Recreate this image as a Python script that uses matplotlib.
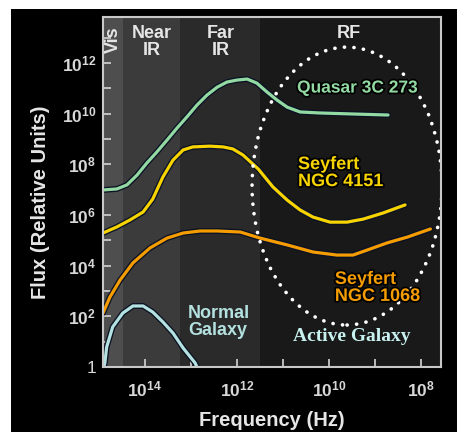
import numpy as np
import matplotlib
matplotlib.use("Agg")
import matplotlib.pyplot as plt
import matplotlib.patheffects as pe
from matplotlib.patches import Ellipse, Rectangle
from matplotlib.ticker import FixedLocator, FuncFormatter

plt.rcParams["font.family"] = ["Liberation Sans", "DejaVu Sans"]
plt.rcParams["mathtext.fontset"] = "custom"
plt.rcParams["mathtext.rm"] = "Liberation Sans:bold"
plt.rcParams["mathtext.it"] = "Liberation Sans:bold"
plt.rcParams["mathtext.bf"] = "Liberation Sans:bold"

# log10 of frequency (Hz) and log10 of flux
quasar_logf = [14.91, 14.61, 14.39, 14.17, 13.96, 13.74, 13.52, 13.30, 13.09, 12.87,
               12.65, 12.43, 12.22, 12.00, 11.78, 11.57, 11.35, 11.13, 10.91, 10.63,
               10.20, 9.48, 8.72]
quasar_logF = [6.99, 7.03, 7.19, 7.58, 8.05, 8.49, 8.96, 9.44, 9.87, 10.34,
               10.74, 11.05, 11.25, 11.33, 11.37, 11.21, 10.86, 10.54, 10.26, 10.07,
               10.03, 9.99, 9.95]

ngc4151_logf = [14.91, 14.61, 14.33, 14.04, 13.83, 13.61, 13.39, 13.17, 12.96, 12.59,
                12.30, 12.09, 11.87, 11.54, 11.22, 10.91, 10.63, 10.35, 9.98, 9.61,
                9.26, 8.83, 8.35]
ngc4151_logF = [5.29, 5.53, 5.80, 6.12, 6.63, 7.50, 8.17, 8.57, 8.69, 8.72,
                8.69, 8.61, 8.37, 7.82, 7.11, 6.59, 6.20, 5.92, 5.72, 5.72,
                5.84, 6.08, 6.40]

ngc1068_logf = [14.91, 14.76, 14.54, 14.26, 13.89, 13.52, 13.17, 12.80, 12.43, 11.93,
                11.50, 10.91, 10.35, 9.83, 9.48, 9.17, 8.74, 8.30, 7.80]
ngc1068_logF = [2.13, 2.76, 3.43, 4.11, 4.70, 5.09, 5.29, 5.37, 5.37, 5.33,
                5.09, 4.82, 4.54, 4.42, 4.42, 4.62, 4.90, 5.13, 5.45]

normal_logf = [14.89, 14.87, 14.83, 14.70, 14.48, 14.26, 14.04, 13.83, 13.61, 13.39,
               13.17, 12.91, 12.87]
normal_logF = [0.0, 0.16, 0.79, 1.58, 2.13, 2.41, 2.41, 2.17, 1.78, 1.34,
               0.75, 0.16, 0.0]

# band edges (log10 Hz) and names
band_edges = [14.91, 14.48, 13.24, 11.5, 7.57]
band_names = ["Vis", "Near\nIR", "Far\nIR", "RF"]
band_colors = ["#4e4e4e", "#3b3b3b", "#2a2a2a", "#191919"]

x_ticks = [15, 14, 13, 12, 11, 10, 9, 8]
y_ticks = list(range(0, 14))

fig = plt.figure(figsize=(4.57, 4.32), dpi=100)
fig.patch.set_facecolor("white")
fig.patches.append(Rectangle((11 / 457, 0), 1, 1 - 9 / 432, transform=fig.transFigure,
                             facecolor="black", edgecolor="none", zorder=-10))

ax = fig.add_axes([103 / 457, 65 / 432, 338 / 457, 350 / 432])
ax.set_xscale("log")
ax.set_yscale("log")
ax.set_xlim(10 ** band_edges[0], 10 ** band_edges[-1])
ax.set_ylim(1, 10 ** 13.82)

for i, c in enumerate(band_colors):
    ax.axvspan(10 ** band_edges[i], 10 ** band_edges[i + 1], color=c, lw=0, zorder=0)

outline = [pe.Stroke(linewidth=4.2, foreground="#0b1224"), pe.Normal()]


def curve(lf, lF, color):
    ax.plot(10 ** np.array(lf), 10 ** np.array(lF), color=color, lw=2.3,
            solid_capstyle="round", solid_joinstyle="round",
            path_effects=outline, zorder=3)


curve(quasar_logf, quasar_logF, "#93d9a2")
curve(ngc4151_logf, ngc4151_logF, "#f7d400")
curve(ngc1068_logf, ngc1068_logF, "#f59c00")
curve(normal_logf, normal_logF, "#b4e2e0")

ell = Ellipse((0.722, 0.517), 0.562, 0.794, transform=ax.transAxes, fill=False,
              edgecolor="white", lw=2.6, linestyle=(0, (0.05, 2.6)), zorder=4)
ell.set_capstyle("round")
ax.add_patch(ell)

txt_fx = [pe.withStroke(linewidth=2.5, foreground="black")]
band_pos = [(0.030, 0.934), (0.145, 0.929), (0.349, 0.929), (0.728, 0.954)]
for name, (bx, by) in zip(band_names, band_pos):
    ax.text(bx, by, name, transform=ax.transAxes, ha="center", va="center",
            rotation=90 if name == "Vis" else 0, color="#e6e6e6", fontsize=13,
            fontweight="bold", linespacing=1.0, zorder=5)

ax.text(0.753, 0.797, "Quasar 3C 273", transform=ax.transAxes, ha="center", va="center",
        color="#93d9a2", fontsize=12.5, fontweight="bold", path_effects=txt_fx, zorder=5)
ax.text(0.577, 0.554, "Seyfert\nNGC 4151", transform=ax.transAxes, ha="left", va="center",
        color="#f7d400", fontsize=13, fontweight="bold", linespacing=1.0,
        path_effects=txt_fx, zorder=5)
ax.text(0.686, 0.226, "Seyfert\nNGC 1068", transform=ax.transAxes, ha="left", va="center",
        color="#f59c00", fontsize=13, fontweight="bold", linespacing=1.0,
        path_effects=txt_fx, zorder=5)
ax.text(0.251, 0.129, "Normal\nGalaxy", transform=ax.transAxes, ha="left", va="center",
        color="#b4e2e0", fontsize=13, fontweight="bold", linespacing=1.0, zorder=5)
ax.text(0.737, 0.086, "Active Galaxy", transform=ax.transAxes, ha="center", va="center",
        color="#c8f2f0", fontsize=14, fontweight="bold", family="Liberation Serif", zorder=5)

ax.xaxis.set_major_locator(FixedLocator([10.0 ** e for e in x_ticks]))
ax.yaxis.set_major_locator(FixedLocator([10.0 ** e for e in y_ticks]))
ax.xaxis.set_minor_locator(FixedLocator([]))
ax.yaxis.set_minor_locator(FixedLocator([]))


def xfmt(v, pos):
    e = int(round(np.log10(v)))
    return r"$10^{%d}$" % e if e % 2 == 0 and e < 15 else ""


def yfmt(v, pos):
    e = int(round(np.log10(v)))
    if e == 0:
        return "1"
    return r"$10^{%d}$" % e if e % 2 == 0 else ""


ax.xaxis.set_major_formatter(FuncFormatter(xfmt))
ax.yaxis.set_major_formatter(FuncFormatter(yfmt))
ax.tick_params(which="both", direction="in", length=6, width=1.3, color="#c8c8c8",
               labelcolor="#d8d8d8", labelsize=12.5)
ax.tick_params(axis="x", pad=9)
ax.tick_params(axis="y", pad=5)
for s in ax.spines.values():
    s.set_color("#c8c8c8")
    s.set_linewidth(1.5)
    s.set_zorder(6)

fig.text(41 / 457, 1 - 202 / 432, "Flux (Relative Units)", rotation=90, ha="center",
         va="center", color="#e6e6e6", fontsize=14.5, fontweight="bold")
fig.text(272 / 457, 1 - 420 / 432, "Frequency (Hz)", ha="center", va="center",
         color="#e6e6e6", fontsize=14.5, fontweight="bold")

fig.savefig("out.png", dpi=100, facecolor=fig.get_facecolor())
